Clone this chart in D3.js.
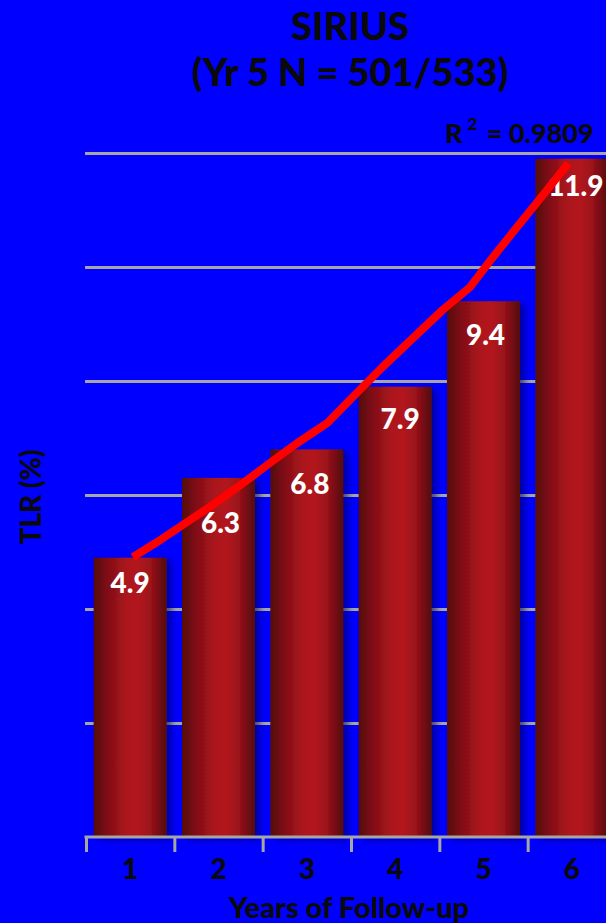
<!DOCTYPE html>
<html>
<head>
<meta charset="utf-8">
<script src="https://cdn.jsdelivr.net/npm/d3@7"></script>
<style>
  html, body { margin: 0; padding: 0; background: #0000ff; overflow: hidden; }
  svg { display: block; }
  text { font-family: Lato, "Open Sans", "DejaVu Sans", sans-serif; font-weight: 900; }
</style>
</head>
<body>
<svg id="chart" width="606" height="923"></svg>
<script>
// Target lesion revascularisation by year of follow-up
const years = ["1", "2", "3", "4", "5", "6"];
const tlr = [4.9, 6.3, 6.8, 7.9, 9.4, 11.9];
const gridValues = [2, 4, 6, 8, 10, 12];

// Trend line points (year position, TLR %)
const trendX = [1.03, 1.34, 1.59, 1.90, 2.28, 2.58, 2.89, 3.23, 3.52, 3.86, 4.20, 4.54, 4.85, 5.08, 5.38, 5.72, 5.96];
const trendY = [4.91, 5.21, 5.47, 5.79, 6.21, 6.56, 6.91, 7.26, 7.72, 8.25, 8.75, 9.25, 9.65, 10.12, 10.70, 11.35, 11.82];

const titleLines = ["SIRIUS", "(Yr 5 N = 501/533)"];
const rSquared = "0.9809";
const yTitle = "TLR (%)";
const xTitle = "Years of Follow-up";

// Value-label nudges (px) so each label clears the trend line
const labelShift = [
  { dx: 0, dy: 35 }, { dx: 2, dy: 55 }, { dx: 3, dy: 45 },
  { dx: 5, dy: 42 }, { dx: 2, dy: 44 }, { dx: 4, dy: 37 }
];

const W = 606, H = 923;
const svg = d3.select("#chart");

svg.append("rect").attr("width", W).attr("height", H).attr("fill", "#0000ff");

const defs = svg.append("defs");
const grad = defs.append("linearGradient").attr("id", "barGrad")
  .attr("x1", "0%").attr("x2", "100%").attr("y1", "0%").attr("y2", "0%");
[[0, "#520a0d"], [0.18, "#7e0f15"], [0.45, "#ab141d"], [0.6, "#b3151e"], [0.78, "#9a121a"], [1, "#520a0d"]]
  .forEach(([o, c]) => grad.append("stop").attr("offset", o).attr("stop-color", c));

const shadow = defs.append("filter").attr("id", "barShadow")
  .attr("x", "-20%").attr("y", "-10%").attr("width", "150%").attr("height", "130%");
shadow.append("feDropShadow").attr("dx", 5).attr("dy", 3).attr("stdDeviation", 3)
  .attr("flood-color", "#000055").attr("flood-opacity", 0.55);

const x = d3.scaleBand().domain(years).range([86, 616])
  .paddingInner(0.173).paddingOuter(0.0865);
const xLin = d3.scaleLinear().domain([0.5, 6.5]).range([86, 616]);
const y = d3.scaleLinear().domain([0, 12]).range([837, 153]);

// Horizontal gridlines
const grid = svg.append("g").attr("transform", "translate(85,0)")
  .call(d3.axisLeft(y).tickValues(gridValues).tickSize(-(W - 85)).tickFormat(""));
grid.select(".domain").remove();
grid.selectAll(".tick line").attr("stroke", "#a6a6a6").attr("stroke-width", 3);

// Bars
svg.append("g").selectAll("rect").data(tlr).join("rect")
  .attr("x", (d, i) => x(years[i]))
  .attr("y", d => y(d))
  .attr("width", x.bandwidth())
  .attr("height", d => y(0) - y(d))
  .attr("fill", "url(#barGrad)")
  .attr("filter", "url(#barShadow)");

// X axis: line with ticks on band boundaries
const tickPos = years.map((d, i) => i + 0.5);
const xAxis = svg.append("g").attr("transform", "translate(0,837)")
  .call(d3.axisBottom(xLin).tickValues(tickPos).tickSize(15).tickFormat("").tickSizeOuter(0));
xAxis.select(".domain").attr("d", `M84.5,0H${W}`).attr("stroke", "#a6a6a6").attr("stroke-width", 3);
xAxis.selectAll(".tick line").attr("stroke", "#a6a6a6").attr("stroke-width", 3);

// Category labels
const xLabels = svg.append("g").attr("transform", "translate(0,837)")
  .call(d3.axisBottom(x).tickSize(0).tickPadding(0));
xLabels.select(".domain").remove();
xLabels.selectAll(".tick text")
  .attr("y", 42).attr("dy", 0)
  .attr("fill", "#0a0a0a")
  .style("font-size", "28px").style("font-weight", "900")
  .style("font-family", "Lato, 'Open Sans', sans-serif");

// Value labels inside bars
svg.append("g").selectAll("text").data(tlr).join("text")
  .attr("x", (d, i) => x(years[i]) + x.bandwidth() / 2 + labelShift[i].dx)
  .attr("y", (d, i) => y(d) + labelShift[i].dy)
  .attr("text-anchor", "middle")
  .attr("fill", "#ffffff")
  .style("font-size", "28px")
  .text(d => d.toFixed(1));

// Trend line
const line = d3.line().x((d, i) => xLin(trendX[i])).y(d => y(d)).curve(d3.curveLinear);
svg.append("path").datum(trendY)
  .attr("d", line)
  .attr("fill", "none")
  .attr("stroke", "#ff0000")
  .attr("stroke-width", 8)
  .attr("stroke-linejoin", "round");

// R squared annotation
const r2 = svg.append("text").attr("x", 445).attr("y", 143).attr("fill", "#0a0a0a")
  .style("font-size", "27px");
r2.append("tspan").text("R");
r2.append("tspan").attr("dx", 5).attr("dy", -13).style("font-size", "17px").text("2");
r2.append("tspan").attr("dx", 3).attr("dy", 13).text(" = " + rSquared);

// Title
svg.append("g").selectAll("text").data(titleLines).join("text")
  .attr("x", 350)
  .attr("y", (d, i) => i === 0 ? 40 : 86)
  .attr("text-anchor", "middle")
  .attr("fill", "#0a0a0a")
  .style("font-size", "38px")
  .text(d => d);

// Axis titles
svg.append("text")
  .attr("transform", "translate(41,497) rotate(-90)")
  .attr("text-anchor", "middle")
  .attr("fill", "#0a0a0a")
  .style("font-size", "28px")
  .text(yTitle);

svg.append("text")
  .attr("x", 349).attr("y", 918)
  .attr("text-anchor", "middle")
  .attr("fill", "#0a0a0a")
  .style("font-size", "29px")
  .text(xTitle);
</script>
</body>
</html>
